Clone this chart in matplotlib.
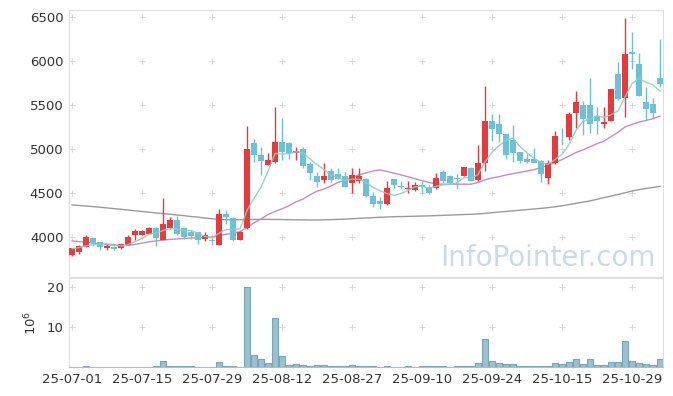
import matplotlib
matplotlib.use("Agg")
import matplotlib.pyplot as plt
import numpy as np

# daily candles, index = trading day
opens = [3800, 3825, 3890, 3990, 3940, 3878, 3886, 3872, 3913, 4023,
         4025, 4035, 4098, 3970, 4100, 4193, 4098, 4060, 4053, 3975,
         3962, 3913, 4260, 4220, 3970, 4098, 5072, 4932, 4818, 4856,
         5076, 5065, 4955, 4997, 4830, 4693, 4648, 4746, 4716, 4693,
         4610, 4640, 4659, 4466, 4413, 4371, 4655, 4580, 4550, 4538,
         4591, 4572, 4553, 4739, 4693, 4670, 4697, 4784, 4648, 4837,
         5318, 5284, 5170, 5102, 4966, 4886, 4890, 4867, 4674, 4837,
         5150, 5140, 5406, 5500, 5500, 5375, 5280, 5322, 5849, 5576,
         6102, 5966, 5534, 5511, 5807]
highs = [3880, 3905, 4020, 4000, 3947, 3920, 3897, 3920, 4020, 4090,
         4077, 4117, 4110, 4440, 4224, 4235, 4117, 4080, 4060, 4057,
         3990, 4322, 4307, 4231, 4072, 5265, 5110, 5019, 4958, 5480,
         5350, 5076, 5027, 5019, 4850, 4742, 4837, 4780, 4780, 4742,
         4780, 4780, 4665, 4515, 4451, 4640, 4660, 4640, 4640, 4629,
         4640, 4591, 4723, 4761, 4705, 4712, 4795, 4792, 5045, 5716,
         5394, 5394, 5175, 5273, 4970, 4943, 5008, 4870, 4875, 5208,
         5235, 5424, 5659, 5540, 5803, 5474, 5474, 5685, 5985, 6485,
         6333, 6087, 5701, 5576, 6247]
lows = [3785, 3805, 3885, 3900, 3850, 3852, 3850, 3868, 3905, 3962,
        4020, 4030, 3898, 3960, 4087, 4023, 3973, 3977, 3917, 3958,
        3910, 3905, 4148, 3958, 3962, 4087, 4856, 4705, 4815, 4837,
        4875, 4883, 4875, 4780, 4648, 4572, 4610, 4629, 4655, 4565,
        4504, 4617, 4458, 4345, 4314, 4364, 4553, 4542, 4504, 4527,
        4504, 4489, 4545, 4610, 4602, 4542, 4690, 4636, 4640, 4750,
        5095, 5083, 4883, 4856, 4845, 4845, 4840, 4629, 4602, 4830,
        5045, 5102, 5235, 5159, 5180, 5170, 5235, 5315, 5560, 5360,
        5906, 5600, 5318, 5337, 5701]
closes = [3870, 3895, 4000, 3930, 3890, 3893, 3862, 3917, 4000, 4068,
          4068, 4100, 3985, 4144, 4193, 4034, 4000, 4011, 3966, 4019,
          3955, 4258, 4228, 3966, 4060, 5000, 4932, 4865, 4875, 5076,
          4963, 4958, 4974, 4811, 4731, 4629, 4693, 4648, 4663, 4572,
          4708, 4693, 4470, 4375, 4375, 4553, 4595, 4565, 4557, 4591,
          4565, 4497, 4667, 4640, 4610, 4663, 4792, 4640, 4841, 5318,
          5224, 5170, 4936, 4958, 4864, 4856, 4845, 4716, 4837, 5148,
          5145, 5398, 5534, 5345, 5288, 5322, 5307, 5678, 5565, 6080,
          6085, 5606, 5458, 5406, 5742]

# moving averages
ma5 = [3865, 3880, 3900, 3912, 3917, 3922, 3915, 3898, 3912, 3948,
       3983, 4031, 4044, 4073, 4098, 4091, 4071, 4076, 4041, 4006,
       3990, 4042, 4085, 4085, 4093, 4302, 4437, 4565, 4746, 4950,
       4942, 4947, 4969, 4956, 4887, 4821, 4768, 4702, 4673, 4641,
       4657, 4657, 4621, 4564, 4524, 4493, 4474, 4493, 4529, 4572,
       4575, 4555, 4575, 4592, 4596, 4615, 4674, 4669, 4709, 4851,
       4963, 5039, 5098, 5121, 5030, 4957, 4892, 4848, 4824, 4880,
       4938, 5049, 5212, 5314, 5342, 5377, 5359, 5388, 5432, 5590,
       5743, 5803, 5759, 5727, 5659]
ma20 = [3955, 3948, 3940, 3930, 3920, 3912, 3905, 3900, 3905, 3915,
        3930, 3945, 3955, 3965, 3972, 3978, 3983, 3987, 3990, 3995,
        4000, 4015, 4030, 4045, 4060, 4110, 4160, 4205, 4255, 4290,
        4320, 4355, 4400, 4430, 4480, 4520, 4545, 4580, 4620, 4645,
        4680, 4705, 4728, 4750, 4762, 4745, 4725, 4705, 4685, 4662,
        4640, 4620, 4602, 4600, 4600, 4600, 4600, 4600, 4620, 4650,
        4670, 4685, 4705, 4720, 4735, 4750, 4765, 4790, 4815, 4845,
        4880, 4920, 4960, 4990, 5025, 5060, 5090, 5140, 5190, 5250,
        5280, 5305, 5325, 5345, 5375]
ma60 = [4365, 4358, 4352, 4345, 4338, 4330, 4322, 4315, 4307, 4298,
        4290, 4282, 4273, 4265, 4258, 4250, 4242, 4233, 4225, 4215,
        4208, 4200, 4195, 4195, 4196, 4198, 4200, 4200, 4200, 4199,
        4198, 4196, 4195, 4194, 4193, 4193, 4195, 4197, 4200, 4203,
        4207, 4212, 4216, 4220, 4224, 4227, 4230, 4232, 4234, 4236,
        4238, 4240, 4243, 4246, 4249, 4252, 4255, 4258, 4262, 4268,
        4276, 4283, 4290, 4297, 4304, 4311, 4318, 4325, 4333, 4343,
        4355, 4368, 4382, 4396, 4410, 4428, 4448, 4465, 4483, 4502,
        4522, 4538, 4552, 4563, 4575]

# volume in millions of shares
volume = [0, 0, 0.25, 0, 0, 0, 0, 0, 0, 0,
          0, 0, 0.2, 1.5, 0.2, 0.2, 0.2, 0.2, 0, 0,
          0, 1.15, 0.15, 0.15, 0, 20.0, 3.1, 2.1, 0.9, 12.1,
          2.7, 0.4, 0.65, 0.5, 0.25, 0.4, 0.4, 0.2, 0.2, 0.15,
          0.4, 0.2, 0.2, 0.2, 0, 0.2, 0, 0, 0.2, 0,
          0.2, 0.2, 0.2, 0.2, 0, 0.2, 0.2, 0.2, 1.1, 6.9,
          1.5, 0.9, 0.65, 0.65, 0.2, 0.2, 0.2, 0.2, 0.2, 0.9,
          0.65, 1.15, 2.0, 0.65, 2.1, 0.5, 0.5, 1.15, 1.15, 6.6,
          1.5, 0.9, 0.65, 0.5, 2.1]

tick_pos = [0, 10, 20, 30, 40, 50, 60, 70, 80]
tick_labels = ["25-07-01", "25-07-15", "25-07-29", "25-08-12", "25-08-27",
               "25-09-10", "25-09-24", "25-10-15", "25-10-29"]
price_ticks = [4000, 4500, 5000, 5500, 6000, 6500]
vol_ticks = [10, 20]

UP = "#e8393c"
DOWN = "#6cc0d8"
SPINE = "#dedede"

fig = plt.figure(figsize=(6.73, 3.96), dpi=100)
ax = fig.add_axes([69 / 673, 119 / 396, 594 / 673, 267 / 396])
axv = fig.add_axes([69 / 673, 29 / 396, 594 / 673, 89 / 396], sharex=ax)

x = np.arange(len(closes))
o = np.array(opens)
c = np.array(closes)
up = c >= o
colors = np.where(up, UP, DOWN)

ax.vlines(x, lows, highs, colors=colors, linewidth=1.0, zorder=3)
body_low = np.minimum(o, c)
body_h = np.maximum(np.abs(c - o), 8)
ax.bar(x, body_h, bottom=body_low, width=0.72, color=colors, linewidth=0, zorder=4)

ax.plot(x, ma60, color="#9a9a9a", linewidth=1.0, zorder=2)
ax.plot(x, ma20, color="#cc88c2", linewidth=1.0, zorder=2)
ax.plot(x, ma5, color="#8ccfc2", linewidth=1.0, alpha=0.9, zorder=5)

ax.text(0.987, 0.02, "InfoPointer.com", transform=ax.transAxes, ha="right",
        va="bottom", fontsize=20, color="#c9dbe6", zorder=1)

axv.bar(x, volume, width=0.92, color="#9cc0d0", edgecolor="#77a5ba",
        linewidth=0.8, zorder=3)

ax.set_xlim(-0.43, 84.43)
ax.set_ylim(3545, 6580)
axv.set_ylim(0, 22.2)

# grid drawn as small crosses at tick intersections
gx, gy = np.meshgrid(tick_pos, price_ticks)
ax.scatter(gx.ravel(), gy.ravel(), marker="+", s=22, color="#d9d9d9",
           linewidths=0.8, zorder=0)
gx, gy = np.meshgrid(tick_pos, vol_ticks)
axv.scatter(gx.ravel(), gy.ravel(), marker="+", s=22, color="#d9d9d9",
            linewidths=0.8, zorder=0)

ax.set_yticks(price_ticks)
ax.set_yticklabels([str(p) for p in price_ticks])
axv.set_yticks(vol_ticks)
axv.set_xticks(tick_pos)
axv.set_xticklabels(tick_labels)
ax.tick_params(axis="x", labelbottom=False, length=0)
for a in (ax, axv):
    a.tick_params(length=0, labelsize=9.5, colors="#333333", pad=4)
    for s in a.spines.values():
        s.set_color(SPINE)
        s.set_linewidth(0.8)
axv.spines["bottom"].set_color("#bbbbbb")
axv.set_ylabel("$10^6$", fontsize=9.5, color="#333333", labelpad=5)

fig.savefig("out.png", dpi=100)
